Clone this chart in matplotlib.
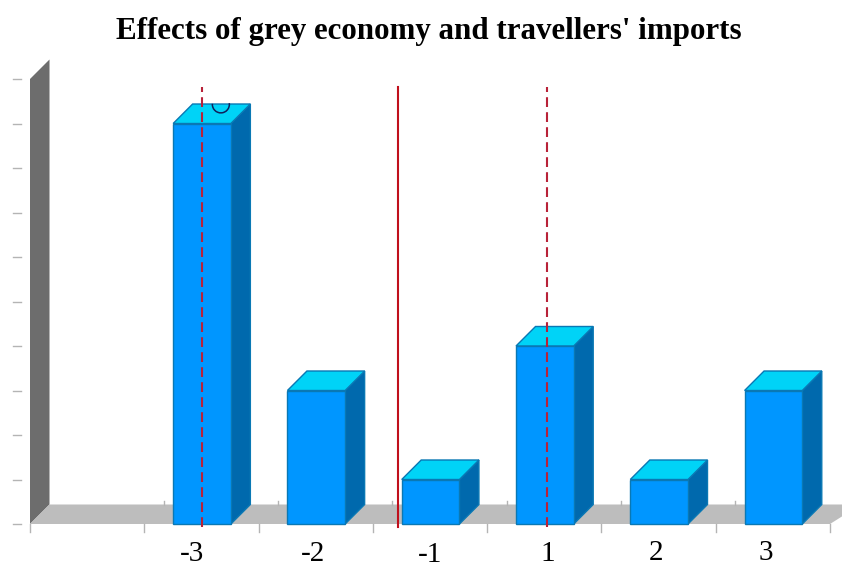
import matplotlib
matplotlib.use("Agg")
import matplotlib.pyplot as plt
from matplotlib.patches import Polygon, Arc

categories = ["-3", "-2", "-1", "1", "2", "3"]
values = [9, 3, 1, 4, 1, 3]
title_text = "Effects of grey economy and travellers' imports"
slot_count = 7
y_max = 10
mean_position = 3.22
dashed_positions = [1.505, 4.52]

W, H = 842, 567
LEFT, RIGHT, BASE, TOP = 30, 830, 524, 79
fig = plt.figure(figsize=(W / 100, H / 100), dpi=100, facecolor="white")
ax = fig.add_axes([LEFT / W, 1 - BASE / H, (RIGHT - LEFT) / W, (BASE - TOP) / H])
ax.set_xlim(0, slot_count)
ax.set_ylim(0, y_max)
ax.axis("off")

# Oblique depth of the 3D look, expressed in data units
ux = (RIGHT - LEFT) / slot_count
uy = (BASE - TOP) / y_max
dx = 19.5 / ux
dy = 19.5 / uy


def poly(points, face, edge="none", lw=0.0, z=1):
    ax.add_patch(Polygon(points, closed=True, facecolor=face, edgecolor=edge,
                         linewidth=lw, zorder=z, clip_on=False, joinstyle="miter"))


# Back wall side and floor
poly([(0, 0), (dx, dy), (dx, y_max + dy), (0, y_max)], "#6d6d6d")
poly([(0, 0), (dx, dy), (slot_count + 0.1 + dx, dy), (slot_count, 0)], "#bdbdbd")

# Axis tick marks
tick_kw = dict(color="#b4b4b4", lw=1.0, zorder=1.5, clip_on=False)
for v in range(y_max + 1):
    ax.plot([-17 / ux, -9 / ux], [v, v], **tick_kw)
for s in range(slot_count + 1):
    ax.plot([s, s], [0, -8 / uy], **tick_kw)
    if 0 < s < slot_count:
        ax.plot([s + dx, s + dx], [dy, dy + 4 / uy], **tick_kw)

# Bars: front, side and top faces
bar_width = 0.505
edge = "#0a78b4"
for i, v in enumerate(values):
    c = i + 1.505
    l, r = c - bar_width / 2, c + bar_width / 2
    poly([(r, 0), (r + dx, dy), (r + dx, v + dy), (r, v)], "#0069ad", edge, 1.0, 2)
    poly([(l, v), (l + dx, v + dy), (r + dx, v + dy), (r, v)], "#00d3f7", edge, 1.0, 2)
    poly([(l, 0), (r, 0), (r, v), (l, v)], "#0096ff", edge, 1.0, 2)

# Small arc sitting on the tallest bar's top face
ax.add_patch(Arc((1.5 + 0.17, values[0] + 0.43), 17 / ux, 17 / uy, theta1=170, theta2=20,
                 color="#10205a", lw=1.1, zorder=3, clip_on=False))

# Reference lines
line_top = 9.82
ax.plot([mean_position] * 2, [-0.07, line_top], color="#c0101c", lw=1.5, zorder=4, clip_on=False)
for p in dashed_positions:
    ax.plot([p] * 2, [-0.07, line_top], color="#b82238", lw=1.5, zorder=4, clip_on=False,
            dashes=(4.7, 2.5))

# Category labels sit slightly unevenly under the slots
label_shift = [(-9, -30), (-3, -30), (0, -30.5), (3, -30), (-3, -29), (-7, -29.5)]
for i, (t, sh) in enumerate(zip(categories, label_shift)):
    ax.annotate(t, (i + 1.5, 0), xytext=(sh[0] * 0.72, sh[1] * 0.72), textcoords="offset points",
                ha="center", va="center", family="Liberation Serif", fontsize=21,
                color="black", annotation_clip=False)

fig.text(428.5 / W, 1 - 31 / H, title_text, ha="center", va="center",
         family="Liberation Serif", weight="bold", fontsize=22.35, color="black")

fig.savefig("out.png", dpi=100)
